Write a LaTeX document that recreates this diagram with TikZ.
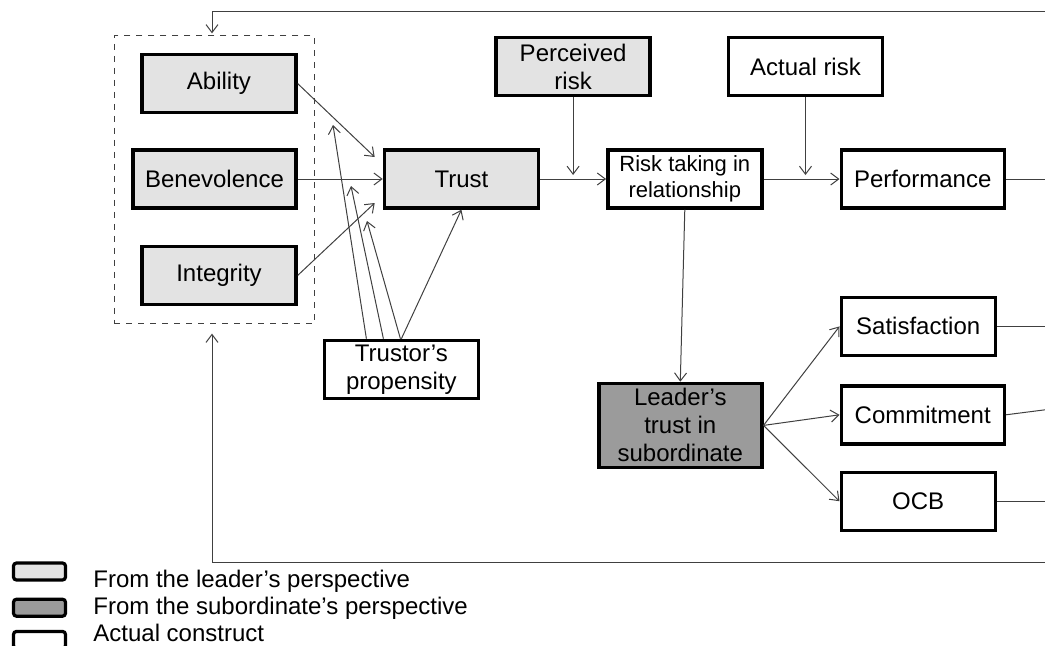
\documentclass[tikz,border=0pt]{standalone}
\usepackage{fontspec}
\setmainfont{Liberation Sans}
\usetikzlibrary{positioning,calc,fit,backgrounds,arrows.meta}
\definecolor{lgray}{HTML}{E3E3E3}
\definecolor{dgray}{HTML}{9B9B9B}
\definecolor{lnc}{HTML}{404040}
\begin{document}
\begin{tikzpicture}[x=0.5pt,y=-0.5pt,font=\fontsize{12}{14}\selectfont,
 box/.style={draw,line width=1.7pt,align=center,inner sep=2pt,minimum width=77pt,minimum height=29pt},
 ldr/.style={box,fill=lgray},
 sbd/.style={box,fill=dgray},
 ar/.style={-{Straight Barb[length=4pt,width=6pt]},line width=0.5pt,draw=lnc},
 ln/.style={line width=0.5pt,draw=lnc},
 key/.style={draw,line width=1.6pt,rounded corners=1.5pt,minimum width=26pt,minimum height=8.5pt,inner sep=0pt},
 keytxt/.style={anchor=base west,inner sep=0pt}]
\useasboundingbox (0,0) rectangle (1045,645);
% leader's side
\node[ldr,minimum width=81.5pt] (bene) at (214.5,179) {Benevolence};
\node[ldr,above=17pt of bene.north east,anchor=south east] (abil) {Ability};
\node[ldr,below=17.5pt of bene.south east,anchor=north east] (integ) {Integrity};
\node[ldr,right=42.5pt of bene] (trust) {Trust};
\node[box,right=33pt of trust,font=\fontsize{11}{13}\selectfont] (rt) {Risk taking in\\relationship};
\node[box,right=38pt of rt,minimum width=81.5pt] (perf) {Performance};
\node[ldr,above=25.5pt of $(trust.north east)!0.5!(rt.north west)$] (prisk) {Perceived\\risk};
\node[box,right=37.5pt of prisk] (arisk) {Actual risk};
\node[box,below=64.5pt of trust,xshift=-30pt] (prop) {Trustor’s\\propensity};
% outcomes
\node[sbd,below=86pt of rt,xshift=-2.25pt,minimum width=81.5pt,minimum height=42pt] (lead) {Leader’s\\trust in\\subordinate};
\node[box,below=43pt of perf.south west,anchor=north west] (sat) {Satisfaction};
\node[box,below=13.5pt of sat.south west,anchor=north west,minimum width=81.5pt] (comm) {Commitment};
\node[box,below=12.5pt of comm.south west,anchor=north west] (ocb) {OCB};
\begin{scope}[on background layer]
\node[draw=lnc,dashed,line width=0.5pt,fit={(abil) (bene) (integ)},inner sep=8.5pt] (grp) {};
\end{scope}
\coordinate (edge) at (1045,0);
\coordinate (top) at (212,11);
\coordinate (bot) at (212,562);
\coordinate (mA) at (333,125);
\coordinate (mB) at (351,186);
\coordinate (mC) at (367,221);
% connectors
\draw[ar] (abil.east) -- ($(trust.west)+(-8,-22)$);
\draw[ar] (bene) -- (trust);
\draw[ar] (integ.east) -- ($(trust.west)+(-8,24)$);
\draw[ar] ($(prop.north)+(-35,0)$) -- (mA);
\draw[ar] ($(prop.north)+(-18,0)$) -- (mB);
\draw[ar] ($(prop.north)+(-1,0)$) -- (mC);
\draw[ar] (prop.north) -- (trust.south);
\draw[ar] (trust) -- (rt);
\draw[ar,shorten >=2pt] (prisk.south) -- (prisk.south |- rt.west);
\draw[ar] (rt) -- (perf);
\draw[ar,shorten >=2pt] (arisk.south) -- (arisk.south |- rt.east);
\draw[ar] (rt.south) -- (lead.north);
\draw[ar] (lead.east) -- (sat.west);
\draw[ar] (lead.east) -- (comm.west);
\draw[ar] (lead.east) -- (ocb.west);
\draw[ln] (perf.east) -- (perf.east -| edge);
\draw[ln] (sat.east) -- (sat.east -| edge);
\draw[ln] (comm.east) -- ($(comm.east -| edge)+(0,-5)$);
\draw[ln] (ocb.east) -- (ocb.east -| edge);
\draw[ar,shorten >=1pt] (edge |- top) -- (top) -- (top |- grp.north);
\draw[ar,shorten >=5pt] (edge |- bot) -- (bot) -- (bot |- grp.south);
% legend
\node[key,fill=lgray] (k1) at (39.5,571.5) {};
\node[key,fill=dgray,below=8pt of k1] (k2) {};
\node[key,fill=white,below=6pt of k2] (k3) {};
\node[keytxt] (t1) at (93,587) {From the leader’s perspective};
\node[keytxt] (t2) at (93,614) {From the subordinate’s perspective};
\node[keytxt] (t3) at (93,641) {Actual construct};
\end{tikzpicture}
\end{document}
